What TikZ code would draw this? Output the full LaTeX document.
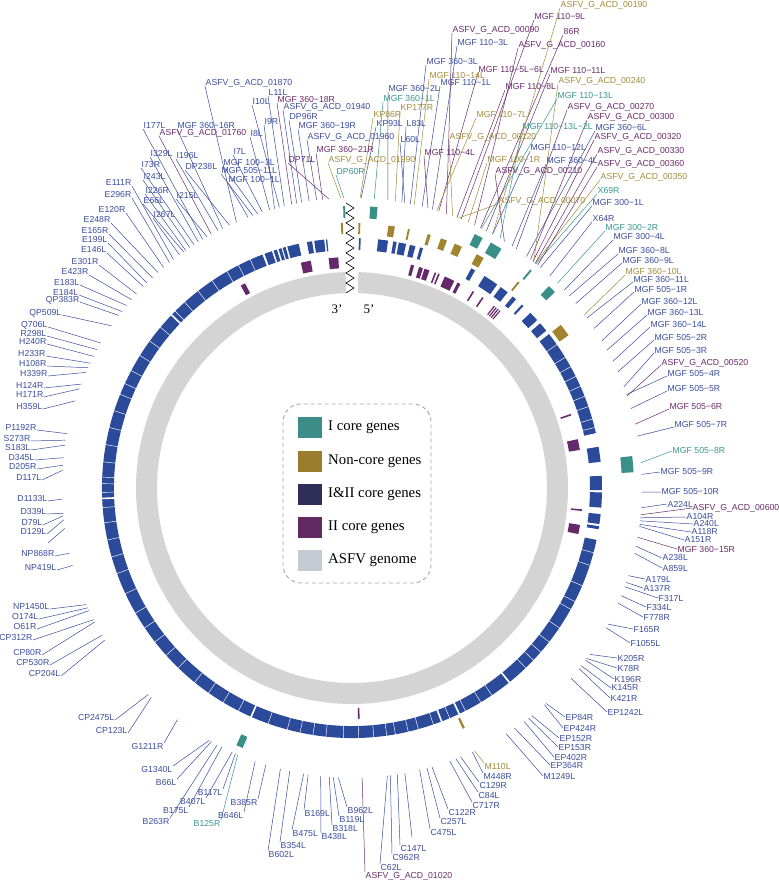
\documentclass[tikz,border=0pt]{standalone}
\usepackage{fontspec}
\setmainfont{Liberation Serif}
\newfontfamily\lblfont{Liberation Sans}
\usetikzlibrary{calc}
\definecolor{lB}{HTML}{3B4D9E}
\definecolor{lP}{HTML}{6B2C6B}
\definecolor{lG}{HTML}{A38B3A}
\definecolor{lT}{HTML}{3A968E}
\definecolor{rB}{HTML}{2C4A9A}
\definecolor{rP}{HTML}{65296A}
\definecolor{rG}{HTML}{A0842F}
\definecolor{rT}{HTML}{3A8F89}
\definecolor{rGrey}{HTML}{D4D4D4}
\definecolor{kT}{HTML}{3C8C89}
\definecolor{kG}{HTML}{9B7D2F}
\definecolor{kN}{HTML}{2F2E58}
\definecolor{kP}{HTML}{622A63}
\definecolor{kS}{HTML}{C4CBD2}
\newcount\glcnt
\newcommand\gl[6]{%
  \global\advance\glcnt by 1\relax
  \edef\glid{\the\glcnt}%
  \coordinate (gi\glid) at ($(C)+({90-(#2)}:290pt)$);
  \node[lbl,text=#1,anchor=#3] (gt\glid) at (#4,-#5) {#6};
  \draw[#1,ldr] (gi\glid) -- (gt\glid.#3);%
}
\newcommand\seg[5]{%
  \fill[#1] ($(C)+({90-(#4)}:#3pt)$) arc[start angle={90-(#4)}, end angle={90-(#5)}, radius=#3pt] -- ($(C)+({90-(#5)}:#2pt)$) arc[start angle={90-(#5)}, end angle={90-(#4)}, radius=#2pt] -- cycle;}
\newcommand\sep[2]{\draw[white,line width=#2pt] ($(C)+({90-(#1)}:236pt)$) -- ($(C)+({90-(#1)}:252pt)$);}
\begin{document}
\begin{tikzpicture}[x=1pt,y=1pt,
  lbl/.style={font=\lblfont\fontsize{8.7pt}{10pt}\selectfont, inner sep=0.5pt},
  ldr/.style={line width=0.5pt},
  legtext/.style={font=\fontsize{14.8pt}{17pt}\selectfont, anchor=west, inner sep=0pt},
  endtext/.style={font=\fontsize{13pt}{15pt}\selectfont, inner sep=0pt}]
\useasboundingbox (0,0) rectangle (778,-882);
\fill[white] (0,0) rectangle (778,-882);
\coordinate (C) at (352,-488);

% grey genome ring
\seg{rGrey}{195}{216}{1.7}{358.3}

% I&II core ring (blue)
\seg{rB}{238}{250}{1.6}{2.0}
\seg{rB}{238}{250}{6.0}{8.3}
\seg{rB}{238}{250}{9.5}{10.3}
\seg{rB}{238}{250}{10.8}{12.5}
\seg{rB}{238}{250}{13.4}{14.7}
\seg{rB}{238}{250}{15.8}{16.5}
\seg{rB}{238}{250}{28.5}{29.5}
\seg{rB}{238}{250}{32}{35.5}
\seg{rB}{238}{250}{36.5}{38.5}
\seg{rB}{238}{250}{40}{41}
\seg{rB}{238}{250}{42.8}{43.3}
\seg{rB}{238}{250}{45.5}{47.8}
\seg{rB}{238}{250}{48.8}{51}
\seg{rB}{238}{250}{52}{77.3}
\seg{rB}{238}{250}{80.5}{84}
\seg{rB}{238}{250}{87.2}{90.5}
\seg{rB}{238}{250}{91}{94.5}
\seg{rB}{238}{250}{96}{98.3}
\seg{rB}{238}{250}{98.8}{99.5}
\seg{rB}{238}{250}{102}{339}
\seg{rB}{238}{250}{339.5}{341.3}
\seg{rB}{238}{250}{341.7}{342.5}
\seg{rB}{238}{250}{342.9}{343.6}
\seg{rB}{238}{250}{343.9}{344.6}
\seg{rB}{238}{250}{345}{347.7}
\seg{rB}{238}{250}{349.6}{350.8}
\seg{rB}{238}{250}{351.3}{353.6}
\seg{rB}{238}{250}{354}{354.3}
\foreach \a in {55,58.5,61,63.5,66,68.5,71,74,76,105,108,113,117,119,124,128,131,133.5,136,146,149,153,157,161,164.6,167,170,172,175,178.5,182,186,189,192,195,199.6,207,211,215,219,224,228,232,236,240,245,250,254,258,262,265.5,269,271,272.5,276,280,284,288,292,294.7,298,302,306,310,315,318,322,326,330,333,336}{\sep{\a}{0.45}}
\foreach \a in {141,154.6,159,203.8,267.6,313.8}{\sep{\a}{1.6}}

% II core (purple)
\foreach \a/\b in {-28.8/-27.6,-12.8/-10.3,-5.8/-3.4,14.8/15.6,16.9/17.9,18.3/19.6,21.0/21.4,21.9/22.3,23.7/26.3,27.2/28.0,31.5/31.9,34.3/34.7,37.9/38.2,38.5/38.8,39.1/39.4,39.7/40.0,71.3/71.7,77.8/80.5,95.3/95.7,99.2/101.5,178.1/178.5}{\seg{rP}{220}{231}{\a}{\b}}
% non-core (gold)
\foreach \a/\b in {-2.4/-2.0,1.4/1.8,7.9/9.3,12.2/12.6,16.6/17.3,19.6/21.0,22.8/24.5,28.1/29.8,38.8/39.2,52/54.8,154.8/155.3}{\seg{rG}{254}{265}{\a}{\b}}
% I core (teal)
\foreach \a/\b in {-1.8/-1.4,3.7/5.2,25.8/27.6,29.5/32,39.2/39.6,44.3/46,83.5/86.8,202.8/204.2}{\seg{rT}{270}{282}{\a}{\b}}

% zigzag break
\draw[black,line width=0.6pt] (346,-203) \foreach \k in {1,...,18}{ -- ({ifthenelse(isodd(\k),354,346)},{-203-5*\k}) };
\node[endtext] (e3) at (337,-309) {3’};
\node[endtext] (e5) at (369,-309) {5’};

% legend
\draw[gray!70,line width=0.9pt,dash pattern=on 4pt off 3pt,rounded corners=18pt] (283,-404) rectangle (431,-583);
\fill[kT] (298,-417) rectangle (322,-438);
\fill[kG] (298,-451) rectangle (322,-472);
\fill[kN] (298,-484) rectangle (322,-505);
\fill[kP] (298,-517) rectangle (322,-538);
\fill[kS] (298,-550) rectangle (322,-571);
\node[legtext] (k1) at (328,-427.5) {I core genes};
\node[legtext] (k2) at (328,-461.5) {Non-core genes};
\node[legtext] (k3) at (328,-494.5) {I\&II core genes};
\node[legtext] (k4) at (328,-527.5) {II core genes};
\node[legtext] (k5) at (328,-560.5) {ASFV genome};

% left labels
\gl{lB}{-38}{base east}{132}{186}{E111R}
\gl{lB}{-39}{base east}{132}{198}{E296R}
\gl{lB}{-40.5}{base east}{126}{213}{E120R}
\gl{lB}{-42}{base east}{111}{223}{E248R}
\gl{lB}{-43.5}{base east}{109}{234}{E165R}
\gl{lB}{-45}{base east}{108}{243}{E199L}
\gl{lB}{-46}{base east}{107}{253}{E146L}
\gl{lB}{-48}{base east}{99}{265}{E301R}
\gl{lB}{-49.5}{base east}{89}{275}{E423R}
\gl{lB}{-51}{base east}{80}{285}{E183L}
\gl{lB}{-52.5}{base east}{79}{295}{E184L}
\gl{lB}{-53.5}{base east}{80}{302}{QP383R}
\gl{lB}{-56}{base east}{62}{315}{QP509L}
\gl{lB}{-60}{base east}{48}{327}{Q706L}
\gl{lB}{-61.5}{base east}{47}{336}{R298L}
\gl{lB}{-63}{base east}{47}{344}{H240R}
\gl{lB}{-64.5}{base east}{46}{356}{H233R}
\gl{lB}{-65.5}{base east}{47}{366}{H108R}
\gl{lB}{-66.5}{base east}{48}{376}{H339R}
\gl{lB}{-69}{base east}{44}{388}{H124R}
\gl{lB}{-70}{base east}{44}{397}{H171R}
\gl{lB}{-72.5}{base east}{43}{409}{H359L}
\gl{lB}{-79.2}{base east}{37}{430}{P1192R}
\gl{lB}{-80.5}{base east}{31}{441}{S273R}
\gl{lB}{-81.5}{base east}{31}{450}{S183L}
\gl{lB}{-84}{base east}{35}{460}{D345L}
\gl{lB}{-85.5}{base east}{37}{469}{D205R}
\gl{lB}{-86.5}{base east}{42}{480}{D117L}
\gl{lB}{-92.2}{base east}{48}{501}{D1133L}
\gl{lB}{-95}{base east}{47}{514}{D339L}
\gl{lB}{-95.5}{base east}{43}{525}{D79L}
\gl{lB}{-96.3}{base east}{47}{534}{D129L}
\gl{lB}{-103}{base east}{55}{556}{NP868R}
\gl{lB}{-105.5}{base east}{57}{570}{NP419L}
\gl{lB}{-113.7}{base east}{50}{609}{NP1450L}
\gl{lB}{-114.4}{base east}{39}{619}{O174L}
\gl{lB}{-115}{base east}{37}{629}{O61R}
\gl{lB}{-117}{base east}{33}{640}{CP312R}
\gl{lB}{-117.5}{base east}{42}{655}{CP80R}
\gl{lB}{-120.5}{base east}{50}{665}{CP530R}
\gl{lB}{-121.6}{base east}{61}{676}{CP204L}
\gl{lB}{-135.4}{base east}{115}{720}{CP2475L}
\gl{lB}{-136.2}{base east}{128}{733}{CP123L}
\coordinate (bx1) at ($(C)+({90-(-98)}:290pt)$);
\coordinate (bx2) at (48,-543);
\draw[lB,ldr] (bx1) -- (bx2);

% bottom-left labels
\gl{lB}{-143}{north east}{164}{743}{G1211R}
\gl{lB}{-150.5}{north east}{173}{766}{G1340L}
\gl{lB}{-151}{north east}{177}{779}{B66L}
\gl{lB}{-152.3}{north east}{170}{818}{B263R}
\gl{lB}{-153.3}{north east}{189}{807}{B175L}
\gl{lB}{-155.6}{north east}{206}{798}{B407L}
\gl{lB}{-156.3}{north east}{223}{789}{B117L}
\gl{lT}{-156.8}{north east}{221}{820}{B125R}
\gl{lB}{-160.5}{north east}{244}{812}{B646L}
\gl{lB}{-162.7}{north east}{258}{799}{B385R}

% bottom labels
\gl{lB}{-165.7}{north west}{268}{851}{B602L}
\gl{lB}{-167.6}{north west}{280}{842}{B354L}
\gl{lB}{-170.4}{north west}{292}{830}{B475L}
\gl{lB}{-171.3}{north west}{304}{810}{B169L}
\gl{lB}{-173.8}{north west}{321}{833}{B438L}
\gl{lB}{-175.5}{north west}{332}{825}{B318L}
\gl{lB}{-176.3}{north west}{339}{816}{B119L}
\gl{lB}{-177.3}{north west}{347}{807}{B962L}
\gl{lP}{178}{north west}{365}{872}{ASFV\_G\_ACD\_01020}
\gl{lB}{173}{north west}{380}{864}{C62L}
\gl{lB}{172.4}{north west}{392}{854}{C962R}
\gl{lB}{171}{north west}{400}{845}{C147L}
\coordinate (bx3) at ($(C)+({90-(169.5)}:290pt)$);
\coordinate (bx4) at (412,-837);
\draw[lB,ldr] (bx3) -- (bx4);
\gl{lB}{166.5}{north west}{430}{829}{C475L}
\gl{lB}{165}{north west}{440}{818}{C257L}
\gl{lB}{164}{north west}{448}{809}{C122R}
\gl{lB}{160.3}{north west}{472}{802}{C717R}
\gl{lB}{159}{north west}{478}{792}{C84L}
\gl{lB}{158}{north west}{479}{782}{C129R}
\gl{lB}{155.5}{north west}{483}{773}{M448R}
\gl{lG}{155}{north west}{484}{763}{M110L}

% bottom-right and right labels
\gl{lB}{147.9}{west}{543}{776}{M1249L}
\gl{lB}{145.9}{west}{550}{765}{EP364R}
\gl{lB}{143.6}{west}{554}{757}{EP402R}
\gl{lB}{142.5}{west}{558}{747}{EP153R}
\gl{lB}{141.7}{west}{559}{738}{EP152R}
\gl{lB}{138.4}{west}{563}{728}{EP424R}
\gl{lB}{138}{west}{565}{717}{EP84R}
\gl{lB}{131}{west}{607}{712}{EP1242L}
\gl{lB}{128.5}{west}{610}{698}{K421R}
\gl{lB}{127.8}{west}{611}{688}{K145R}
\gl{lB}{126.4}{west}{614}{679}{K196R}
\gl{lB}{126}{west}{617}{668}{K78R}
\gl{lB}{125}{west}{617}{658}{K205R}
\gl{lB}{118.8}{west}{630}{643}{F1055L}
\gl{lB}{118}{west}{633}{629}{F165R}
\gl{lB}{113.4}{west}{643}{617}{F778R}
\gl{lB}{111.8}{west}{646}{607}{F334L}
\gl{lB}{109.9}{west}{658}{598}{F317L}
\gl{lB}{109}{west}{643}{588}{A137R}
\gl{lB}{107.6}{west}{645}{579}{A179L}
\gl{lB}{103}{west}{662}{568}{A859L}
\gl{lB}{101.6}{west}{662}{558}{A238L}
\gl{lP}{99.8}{west}{677}{549}{MGF 360−15R}
\gl{lB}{97.6}{west}{684}{540}{A151R}
\gl{lB}{97.2}{west}{691}{532}{A118R}
\gl{lB}{96.5}{west}{693}{524}{A240L}
\gl{lB}{95.9}{west}{686}{517}{A104R}
\gl{lP}{95.3}{west}{692}{508}{ASFV\_G\_ACD\_00600}
\gl{lB}{93.9}{west}{667}{504}{A224L}
\gl{lB}{90.8}{west}{661}{492}{MGF 505−10R}
\gl{lB}{87.3}{west}{660}{472}{MGF 505−9R}
\gl{lT}{85}{west}{672}{451}{MGF 505−8R}
\gl{lB}{79.7}{base west}{674}{427}{MGF 505−7R}
\gl{lP}{77.3}{base west}{669}{409}{MGF 505−6R}
\gl{lB}{74.1}{base west}{667}{391}{MGF 505−5R}
\gl{lB}{71.2}{base west}{667}{376}{MGF 505−4R}
\gl{lP}{71.5}{base west}{661}{365}{ASFV\_G\_ACD\_00520}
\gl{lB}{69.6}{base west}{654}{353}{MGF 505−3R}
\gl{lB}{66.4}{base west}{654}{340}{MGF 505−2R}
\gl{lB}{64.1}{base west}{650}{327}{MGF 360−14L}
\gl{lB}{61.6}{base west}{647}{315}{MGF 360−13L}
\gl{lB}{59.5}{base west}{641}{304}{MGF 360−12L}
\gl{lB}{56.6}{base west}{634}{292}{MGF 505−1R}
\gl{lB}{54.1}{base west}{633}{282}{MGF 360−11L}
\gl{lG}{53.3}{base west}{625}{275}{MGF 360−10L}
\gl{lB}{50.5}{base west}{622}{263}{MGF 360−9L}
\gl{lB}{48.5}{base west}{618}{254}{MGF 360−8L}
\gl{lB}{47}{base west}{613}{240}{MGF 300−4L}
\gl{lT}{45.1}{base west}{605}{231}{MGF 300−2R}
\gl{lB}{43}{base west}{592}{222}{X64R}
\gl{lB}{40.5}{base west}{592}{206}{MGF 300−1L}
\gl{lT}{39.4}{base west}{597}{194}{X69R}
\gl{lG}{39.2}{base west}{600}{180}{ASFV\_G\_ACD\_00350}
\gl{lP}{39.8}{base west}{597}{167}{ASFV\_G\_ACD\_00360}
\gl{lP}{39.2}{base west}{597}{154}{ASFV\_G\_ACD\_00330}
\gl{lP}{38.6}{base west}{594}{140}{ASFV\_G\_ACD\_00320}
\gl{lB}{37}{base west}{595}{131}{MGF 360−6L}
\gl{lP}{38}{base west}{587}{120}{ASFV\_G\_ACD\_00300}
\gl{lP}{34.5}{base west}{567}{110}{ASFV\_G\_ACD\_00270}

% top-right labels
\gl{lT}{26.5}{base west}{557}{99}{MGF 110−13L}
\gl{lG}{38.8}{base west}{558}{84}{ASFV\_G\_ACD\_00240}
\gl{lP}{27.6}{base west}{550}{74}{MGF 110−11L}
\gl{lP}{25}{base west}{518}{48}{ASFV\_G\_ACD\_00160}
\gl{lP}{26.3}{base west}{563}{35}{86R}
\gl{lP}{22.1}{base west}{534}{20}{MGF 110−9L}
\gl{lG}{29}{base west}{560}{8}{ASFV\_G\_ACD\_00190}
\gl{lP}{19}{base west}{452}{33}{ASFV\_G\_ACD\_00090}
\gl{lB}{16.1}{base west}{457}{46}{MGF 110−3L}
\gl{lB}{11.6}{base west}{426}{65}{MGF 360−3L}
\gl{lP}{17.4}{base west}{478}{73}{MGF 110−5L−6L}
\gl{lG}{12.4}{base west}{429}{79}{MGF 110−14L}
\gl{lB}{14}{base west}{440}{86}{MGF 110−1L}
\gl{lP}{21.2}{base west}{505}{90}{MGF 110−8L}
\gl{lB}{7.1}{base west}{388}{92}{MGF 360−2L}
\gl{lT}{4.4}{base west}{383}{102}{MGF 360−1L}
\gl{lG}{8.6}{base west}{400}{111}{KP177R}
\gl{lG}{1.6}{base west}{373}{118}{KP86R}
\gl{lG}{17}{base west}{476}{118}{MGF 110−7L}
\gl{lB}{1.8}{base west}{376}{127}{KP93L}
\gl{lB}{9.9}{base west}{406}{127}{L83L}
\gl{lT}{30.7}{base west}{522}{130}{MGF 110−13L−2L}
\gl{lG}{20.3}{base west}{449}{140}{ASFV\_G\_ACD\_00120}
\gl{lB}{10.5}{base west}{400}{143}{L60L}
\gl{lB}{29}{base west}{530}{151}{MGF 110−12L}
\gl{lP}{15.2}{base west}{424}{156}{MGF 110−4L}
\gl{lG}{23.6}{base west}{487}{163}{MGF 100−1R}
\gl{lB}{33.5}{base west}{546}{164}{MGF 360−4L}
\gl{lP}{31.7}{base west}{495}{174}{ASFV\_G\_ACD\_00210}
\gl{lG}{21.5}{base west}{498}{204}{ASFV\_G\_ACD\_00070}

% top-left labels
\gl{lB}{-23.5}{base west}{205}{86}{ASFV\_G\_ACD\_01870}
\gl{lB}{-13.5}{base west}{268}{96}{L11L}
\gl{lB}{-14.5}{base west}{252}{105}{I10L}
\gl{lP}{-12}{base west}{277}{103}{MGF 360−18R}
\gl{lB}{-11}{base west}{283}{110}{ASFV\_G\_ACD\_01940}
\gl{lB}{-10}{base west}{289}{120}{DP96R}
\gl{lB}{-15.5}{base west}{264}{125}{I9R}
\gl{lB}{-8.5}{base west}{298}{129}{MGF 360−19R}
\gl{lB}{-31}{base west}{143}{129}{I177L}
\gl{lB}{-26.5}{base west}{177}{129}{MGF 360−16R}
\gl{lP}{-29}{base west}{159}{136}{ASFV\_G\_ACD\_01760}
\gl{lB}{-16.5}{base west}{250}{137}{I8L}
\gl{lB}{-7}{base west}{307}{140}{ASFV\_G\_ACD\_01960}
\gl{lB}{-32}{base west}{150}{157}{I329L}
\gl{lB}{-27.5}{base west}{176}{159}{I196L}
\gl{lB}{-18}{base west}{233}{155}{I7L}
\gl{lP}{-5.8}{base west}{316}{153}{MGF 360−21R}
\gl{lG}{-2.2}{base west}{328}{163}{ASFV\_G\_ACD\_01990}
\gl{lP}{-4.6}{base west}{288}{163}{DP71L}
\gl{lB}{-33}{base west}{141}{168}{I73R}
\gl{lB}{-25}{base west}{185}{170}{DP238L}
\gl{lB}{-19}{base west}{223}{166}{MGF 100−3L}
\gl{lB}{-20}{base west}{221}{174}{MGF 505−11L}
\gl{lT}{-1.6}{base west}{336}{175}{DP60R}
\gl{lB}{-34}{base west}{143}{180}{I243L}
\gl{lB}{-21}{base west}{228}{183}{MGF 100−1L}
\gl{lB}{-35}{base west}{145}{194}{I226R}
\gl{lB}{-30}{base west}{176}{199}{I215L}
\gl{lB}{-35.5}{base west}{143}{204}{E66L}
\gl{lB}{-36.5}{base west}{153}{218}{I267L}
\end{tikzpicture}
\end{document}
